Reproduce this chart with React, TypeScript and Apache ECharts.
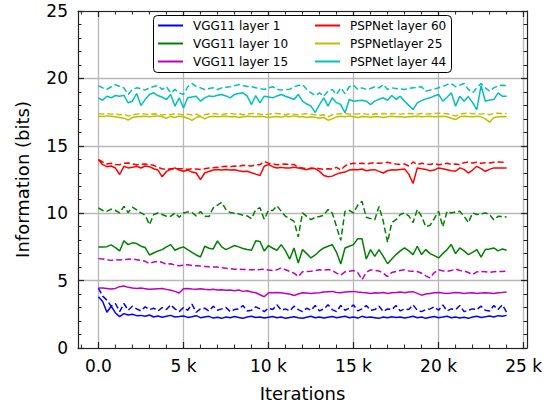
import React, { useEffect, useRef } from "react";
import * as echarts from "echarts";

// Iterations: one sample every 250 iterations, 0 .. 24000
const STEP = 250;
const N_POINTS = 97;
const ITERATIONS = Array.from({ length: N_POINTS }, (_, i) => i * STEP);

const X_MAJOR_TICKS = [0, 5000, 10000, 15000, 20000, 25000];
const X_MINOR_TICKS = [-1000, 1000, 2000, 3000, 4000, 6000, 7000, 8000, 9000, 11000, 12000, 13000, 14000, 16000, 17000, 18000, 19000, 21000, 22000, 23000, 24000];

const LEGEND_LEFT = ["VGG11 layer 1", "VGG11 layer 10", "VGG11 layer 15"];
const LEGEND_RIGHT = ["PSPNet layer 60", "PSPNetlayer 25", "PSPNet layer 44"];

const VGG1_SOLID = [
  3.8, 3.45, 2.65, 3.1, 2.6, 2.33, 2.55, 2.45, 2.5, 2.4,
  2.42, 2.36, 2.45, 2.3, 2.38, 2.28, 2.35, 2.42, 2.3, 2.33,
  2.38, 2.27, 2.32, 2.4, 2.25, 2.3, 2.35, 2.22, 2.28, 2.2,
  2.3, 2.25, 2.33, 2.27, 2.2, 2.3, 2.35, 2.26, 2.3, 2.22,
  2.28, 2.34, 2.25, 2.3, 2.2, 2.27, 2.32, 2.25, 2.2, 2.28,
  2.35, 2.25, 2.3, 2.22, 2.28, 2.33, 2.24, 2.3, 2.36, 2.25,
  2.3, 2.22, 2.35, 2.27, 2.3, 2.25, 2.2, 2.3, 2.24, 2.32,
  2.26, 2.3, 2.22, 2.28, 2.35, 2.25, 2.3, 2.2, 2.28, 2.33,
  2.25, 2.3, 2.36, 2.24, 2.3, 2.22, 2.28, 2.2, 2.3, 2.35,
  2.27, 2.32, 2.38, 2.3, 2.4, 2.35, 2.42,
];
const VGG1_DASHED = [
  4.45, 3.85, 3.55, 3.1, 3.3, 2.7, 3.3, 2.8, 3.1, 2.9,
  2.75, 3.05, 2.85, 2.95, 2.75, 3.0, 2.85, 3.2, 2.9, 2.7,
  3.0, 2.8, 3.25, 2.65, 2.9, 2.95, 2.75, 3.1, 2.8, 2.9,
  3.0, 2.7, 2.85, 2.9, 3.15, 2.75, 2.8, 3.05, 2.9, 2.7,
  2.95, 2.85, 3.2, 2.8, 2.9, 2.75, 3.1, 2.85, 2.7, 2.95,
  2.8, 3.15, 2.75, 2.9, 3.2, 2.85, 2.7, 3.15, 2.8, 2.95,
  3.2, 2.75, 2.9, 3.15, 2.8, 2.85, 3.1, 2.7, 2.9, 2.85,
  3.15, 2.75, 2.9, 2.85, 3.2, 2.8, 2.7, 2.85, 2.9, 3.05,
  2.8, 3.2, 2.75, 2.9, 2.85, 3.15, 2.7, 2.8, 2.9, 2.85,
  3.1, 2.8, 2.75, 3.15, 2.85, 3.2, 2.65,
];
const VGG15_SOLID = [
  4.45, 4.45, 4.42, 4.38, 4.42, 4.55, 4.6, 4.5, 4.45, 4.42,
  4.45, 4.4, 4.35, 4.38, 4.4, 4.42, 4.35, 4.28, 4.2, 4.08,
  4.4, 4.42, 4.38, 4.35, 4.4, 4.35, 4.32, 4.35, 4.3, 4.32,
  4.28, 4.3, 4.25, 4.3, 4.2, 4.25, 4.15, 4.1, 3.95, 3.8,
  4.1, 4.1, 4.12, 4.1, 4.05, 4.0, 3.9, 4.0, 4.1, 4.08,
  4.05, 4.08, 4.1, 4.15, 4.18, 4.2, 4.12, 4.1, 4.15, 4.18,
  4.2, 4.15, 4.12, 4.1, 4.05, 4.1, 4.08, 4.12, 4.05, 4.1,
  4.12, 4.15, 4.1, 4.15, 4.18, 4.05, 3.92, 4.0, 4.05, 4.1,
  4.12, 4.08, 4.05, 4.08, 4.12, 4.1, 4.05, 4.08, 4.1, 4.05,
  4.08, 4.1, 4.08, 4.05, 4.1, 4.12, 4.15,
];
const VGG15_DASHED = [
  6.63, 6.6, 6.55, 6.5, 6.55, 6.52, 6.55, 6.58, 6.6, 6.55,
  6.5, 6.43, 6.26, 6.38, 6.43, 6.35, 6.2, 6.25, 6.15, 6.1,
  6.15, 6.18, 6.12, 6.1, 6.08, 6.05, 6.02, 6.0, 6.0, 5.95,
  5.92, 5.88, 5.85, 5.85, 5.82, 5.82, 5.8, 5.8, 5.82, 5.85,
  5.78, 5.75, 5.8, 5.95, 5.8, 5.68, 5.55, 5.3, 5.65, 5.68,
  5.7, 5.75, 5.8, 5.78, 5.82, 5.75, 5.55, 5.4, 5.65, 5.7,
  5.75, 5.6, 5.07, 5.6, 5.8, 5.75, 5.72, 5.55, 5.3, 5.6,
  5.68, 5.75, 5.8, 5.72, 5.7, 5.68, 5.55, 5.35, 5.2, 5.6,
  5.8, 5.72, 5.68, 5.75, 5.85, 5.75, 5.72, 5.6, 5.45, 5.65,
  5.68, 5.65, 5.62, 5.65, 5.68, 5.68, 5.7,
];
const VGG10_SOLID = [
  7.5, 7.5, 7.52, 7.65, 7.45, 7.2, 7.95, 7.67, 7.8, 7.75,
  7.55, 7.45, 6.9, 7.05, 7.2, 7.3, 7.5, 7.67, 7.25, 7.4,
  7.5, 7.3, 7.1, 6.9, 6.75, 7.55, 7.4, 7.35, 7.95, 7.5,
  7.3, 7.45, 7.6, 7.5, 7.38, 7.3, 7.25, 7.95, 7.9, 7.2,
  7.6, 7.4, 7.25, 7.67, 7.2, 6.6, 7.42, 6.3, 7.3, 7.0,
  6.68, 6.9, 7.2, 7.42, 7.55, 7.67, 7.1, 6.23, 7.42, 7.55,
  7.67, 8.11, 8.1, 6.6, 7.3, 6.8, 7.3, 6.8, 6.25, 6.6,
  6.93, 7.2, 7.42, 7.2, 6.93, 7.55, 6.93, 7.3, 7.0, 6.85,
  6.68, 7.0, 7.3, 7.67, 7.0, 7.42, 7.2, 6.93, 7.1, 7.3,
  6.75, 7.3, 7.35, 7.42, 7.2, 7.35, 7.25,
];
const VGG10_DASHED = [
  10.4, 10.2, 10.14, 10.3, 10.2, 10.02, 10.5, 10.05, 10.45, 10.25,
  10.02, 9.85, 9.15, 9.9, 10.02, 9.9, 9.77, 9.77, 10.02, 9.7,
  10.02, 10.1, 10.05, 9.8, 10.12, 9.77, 9.75, 10.4, 10.6, 10.81,
  10.27, 10.05, 10.0, 9.95, 9.85, 9.8, 9.6, 10.27, 10.4, 9.55,
  10.2, 10.2, 10.55, 10.14, 9.77, 9.6, 9.4, 8.24, 10.02, 9.77,
  9.52, 9.7, 9.75, 9.85, 10.27, 10.02, 9.0, 7.99, 10.14, 10.2,
  10.02, 10.6, 10.88, 9.7, 9.6, 9.52, 10.5, 9.4, 7.84, 9.3,
  9.52, 9.9, 10.02, 9.8, 9.3, 10.27, 9.77, 9.0, 9.1, 9.6,
  10.14, 9.0, 10.14, 10.02, 10.1, 10.14, 9.77, 9.3, 10.02, 9.9,
  9.95, 10.02, 9.9, 9.52, 9.77, 9.75, 9.72,
];
const PSP60_SOLID = [
  13.98, 13.6, 13.45, 13.5, 13.35, 12.87, 13.48, 13.36, 13.4, 13.48,
  13.35, 13.5, 13.45, 13.3, 13.2, 12.7, 13.1, 13.25, 13.36, 13.2,
  13.11, 13.2, 13.05, 12.98, 12.49, 12.98, 13.1, 13.2, 13.25, 13.2,
  13.25, 13.2, 13.23, 13.15, 13.1, 13.11, 13.0, 12.9, 12.8, 13.48,
  13.6, 13.45, 13.36, 13.4, 13.35, 13.36, 13.4, 13.36, 13.3, 13.23,
  13.36, 13.3, 13.1, 12.8, 12.7, 12.75, 12.9, 13.0, 13.05, 13.2,
  13.25, 13.23, 13.28, 13.15, 13.2, 13.23, 13.1, 12.98, 13.15, 13.23,
  13.2, 13.25, 13.28, 12.9, 12.2, 13.36, 13.3, 13.25, 13.15, 13.2,
  13.36, 13.3, 13.23, 13.15, 13.11, 13.36, 13.25, 12.98, 13.2, 13.48,
  13.3, 13.11, 13.25, 13.36, 13.36, 13.36, 13.36,
];
const PSP60_DASHED = [
  13.98, 13.8, 13.65, 13.7, 13.62, 13.6, 13.7, 13.72, 13.65, 13.6,
  13.62, 13.65, 13.6, 13.55, 13.4, 13.3, 13.25, 13.3, 13.28, 13.3,
  13.3, 13.25, 13.3, 13.28, 13.25, 13.3, 13.35, 13.38, 13.4, 13.45,
  13.48, 13.45, 13.5, 13.48, 13.55, 13.52, 13.5, 13.58, 13.6, 13.85,
  13.7, 13.65, 13.6, 13.62, 13.65, 13.6, 13.62, 13.4, 13.36, 13.3,
  13.3, 13.35, 13.3, 13.25, 13.3, 13.28, 13.4, 13.2, 13.5, 13.65,
  13.7, 13.68, 13.7, 13.65, 13.7, 13.75, 13.7, 13.72, 13.78, 13.7,
  13.65, 13.62, 13.65, 13.5, 13.8, 13.6, 13.7, 13.65, 13.62, 13.68,
  13.6, 13.65, 13.7, 13.62, 13.65, 13.6, 13.75, 13.8, 13.72, 13.78,
  13.7, 13.75, 13.72, 13.78, 13.8, 13.78, 13.78,
];
const PSP25_SOLID = [
  17.2, 17.18, 17.22, 17.2, 17.15, 17.1, 17.05, 16.9, 17.1, 17.15,
  17.18, 17.2, 17.15, 17.2, 17.22, 17.15, 17.05, 17.18, 17.1, 17.2,
  17.15, 17.05, 16.88, 17.1, 17.18, 17.0, 17.15, 17.2, 17.15, 17.18,
  17.2, 17.15, 17.18, 17.1, 17.15, 17.2, 17.18, 17.15, 17.2, 17.15,
  17.1, 17.15, 17.18, 17.12, 17.2, 17.15, 17.22, 17.15, 17.18, 17.1,
  17.15, 17.12, 17.05, 17.1, 16.9, 17.0, 17.15, 17.2, 17.15, 17.22,
  17.15, 17.1, 17.18, 17.15, 17.12, 17.18, 17.15, 17.1, 17.15, 17.2,
  17.15, 17.18, 17.12, 17.15, 17.18, 17.2, 17.15, 17.18, 17.2, 17.15,
  17.18, 17.2, 17.15, 17.05, 16.95, 17.15, 17.2, 17.18, 17.15, 17.2,
  17.15, 17.0, 16.75, 17.1, 17.15, 17.18, 17.15,
];
const PSP25_DASHED = [
  17.38, 17.35, 17.4, 17.35, 17.38, 17.3, 17.35, 17.2, 17.3, 17.35,
  17.38, 17.35, 17.3, 17.38, 17.35, 17.28, 17.35, 17.3, 17.38, 17.35,
  17.3, 17.35, 17.28, 17.35, 17.2, 17.3, 17.38, 17.4, 17.35, 17.3,
  17.38, 17.4, 17.35, 17.38, 17.3, 17.35, 17.4, 17.38, 17.35, 17.3,
  17.35, 17.38, 17.4, 17.35, 17.3, 17.38, 17.35, 17.3, 17.35, 17.38,
  17.35, 17.3, 17.25, 17.3, 17.15, 17.3, 17.35, 17.38, 17.4, 17.35,
  17.38, 17.35, 17.4, 17.35, 17.3, 17.38, 17.35, 17.4, 17.35, 17.38,
  17.4, 17.35, 17.38, 17.4, 17.38, 17.35, 17.4, 17.35, 17.38, 17.4,
  17.42, 17.4, 17.38, 17.3, 17.2, 17.35, 17.4, 17.42, 17.38, 17.4,
  17.35, 17.38, 17.3, 17.4, 17.42, 17.4, 17.4,
];
const PSP44_SOLID = [
  18.56, 18.38, 18.68, 18.56, 18.73, 18.68, 18.75, 18.19, 18.31, 18.88,
  17.99, 18.43, 18.81, 18.93, 18.73, 18.6, 18.43, 18.81, 17.94, 18.56,
  17.81, 18.56, 18.62, 18.68, 18.31, 18.56, 18.7, 18.65, 18.75, 18.81,
  18.7, 18.56, 18.81, 18.88, 18.93, 18.68, 18.06, 18.73, 18.19, 18.68,
  18.62, 18.56, 18.7, 18.81, 18.68, 18.56, 18.43, 18.81, 18.31, 18.1,
  17.94, 17.47, 18.06, 18.56, 17.94, 18.56, 18.2, 18.06, 17.45, 18.43,
  18.31, 18.35, 18.38, 18.31, 18.06, 18.31, 18.45, 18.56, 18.38, 18.73,
  18.43, 18.68, 18.31, 18.0, 17.69, 18.19, 18.35, 18.48, 18.56, 18.7,
  18.81, 18.31, 18.6, 18.93, 17.94, 18.68, 18.31, 18.65, 18.2, 17.69,
  19.47, 18.31, 18.4, 18.43, 18.93, 18.68, 18.68,
];
const PSP44_DASHED = [
  19.47, 19.3, 19.18, 19.38, 19.54, 19.4, 19.3, 18.81, 19.18, 19.3,
  19.25, 19.13, 19.3, 19.4, 19.47, 19.18, 19.38, 18.93, 19.18, 18.93,
  18.81, 19.38, 19.62, 19.4, 19.3, 19.18, 19.25, 19.3, 19.18, 19.3,
  19.35, 19.38, 19.45, 19.54, 19.47, 19.4, 19.38, 19.3, 19.25, 19.18,
  19.3, 19.38, 19.2, 19.13, 19.18, 19.2, 19.38, 19.47, 19.54, 19.2,
  18.93, 18.73, 18.93, 18.68, 19.05, 19.18, 18.81, 19.3, 18.87, 19.38,
  19.5, 19.18, 19.3, 19.18, 19.25, 19.38, 19.3, 19.54, 19.18, 19.3,
  19.25, 19.22, 19.18, 19.25, 19.3, 19.35, 19.38, 19.05, 19.13, 19.2,
  19.3, 19.4, 19.54, 19.62, 19.38, 19.5, 19.62, 19.18, 18.93, 19.3,
  19.62, 19.3, 19.05, 19.3, 19.45, 19.5, 19.47,
];

const FONT = "DejaVu Sans";
const AXIS_COLOR = "#222222";

type S = { name: string; color: string; values: number[]; dashed: boolean };
const SERIES: S[] = [
  { name: "VGG11 layer 1", color: "#0000ff", values: VGG1_SOLID, dashed: false },
  { name: "VGG11 layer 1 (b)", color: "#0000ff", values: VGG1_DASHED, dashed: true },
  { name: "VGG11 layer 10", color: "#008000", values: VGG10_SOLID, dashed: false },
  { name: "VGG11 layer 10 (b)", color: "#008000", values: VGG10_DASHED, dashed: true },
  { name: "VGG11 layer 15", color: "#bf00bf", values: VGG15_SOLID, dashed: false },
  { name: "VGG11 layer 15 (b)", color: "#bf00bf", values: VGG15_DASHED, dashed: true },
  { name: "PSPNet layer 60", color: "#ff0000", values: PSP60_SOLID, dashed: false },
  { name: "PSPNet layer 60 (b)", color: "#ff0000", values: PSP60_DASHED, dashed: true },
  { name: "PSPNetlayer 25", color: "#bfbf00", values: PSP25_SOLID, dashed: false },
  { name: "PSPNetlayer 25 (b)", color: "#bfbf00", values: PSP25_DASHED, dashed: true },
  { name: "PSPNet layer 44", color: "#00bfbf", values: PSP44_SOLID, dashed: false },
  { name: "PSPNet layer 44 (b)", color: "#00bfbf", values: PSP44_DASHED, dashed: true },
];

export default function App() {
  const ref = useRef<HTMLDivElement>(null);
  useEffect(() => {
    if (!ref.current) return;
    const chart = echarts.init(ref.current, null, { renderer: "svg" });
    const xMin = -1200;
    const xMax = 25200;
    const legendCommon = {
      orient: "vertical",
      icon: "rect",
      itemWidth: 25,
      itemHeight: 2,
      itemGap: 4,
      padding: 0,
      z: 20,
      selectedMode: false,
      textStyle: { fontFamily: FONT, fontSize: 12, color: "#000", lineHeight: 14, padding: [0, 0, 0, 5] },
    };
    const lineSeries = SERIES.map((s) => ({
      name: s.name,
      type: "line",
      data: s.values.map((v, i) => [ITERATIONS[i], v]),
      showSymbol: false,
      symbol: "none",
      color: s.color,
      lineStyle: { color: s.color, width: 1.5, type: s.dashed ? [6, 3] : "solid" },
      z: 3,
    }));
    const option: any = {
      animation: false,
      backgroundColor: "#ffffff",
      grid: { left: 78, right: 32, top: 11, bottom: 62 },
      graphic: [
        {
          type: "rect",
          z: 10,
          shape: { x: 153.5, y: 15.5, width: 298, height: 57, r: 4 },
          style: { fill: "rgba(255,255,255,0.9)", stroke: "#000", lineWidth: 1 },
        },
      ],
      legend: [
        { ...legendCommon, left: 158, top: 18.5, data: LEGEND_LEFT },
        { ...legendCommon, left: 315, top: 18.5, data: LEGEND_RIGHT },
      ],
      xAxis: [
        {
          type: "value",
          position: "bottom",
          min: xMin,
          max: xMax,
          name: "Iterations",
          nameLocation: "middle",
          nameGap: 36,
          nameTextStyle: { fontFamily: FONT, fontSize: 18, color: "#000" },
          axisLine: { onZero: false, lineStyle: { color: AXIS_COLOR, width: 1.2 } },
          axisTick: { inside: true, length: 6, customValues: X_MAJOR_TICKS, lineStyle: { color: AXIS_COLOR, width: 1.2 } },
          axisLabel: {
            customValues: X_MAJOR_TICKS,
            fontFamily: FONT,
            fontSize: 17,
            color: "#000",
            margin: 9,
            formatter: (v: number) => (v === 0 ? "0.0" : `${v / 1000} k`),
          },
          splitLine: { show: true, lineStyle: { color: "#b8b8b8", width: 1.3 } },
        },
        {
          type: "value",
          position: "top",
          min: xMin,
          max: xMax,
          axisLine: { onZero: false, lineStyle: { color: AXIS_COLOR, width: 1.2 } },
          axisTick: { inside: true, length: 6, customValues: X_MAJOR_TICKS, lineStyle: { color: AXIS_COLOR, width: 1.2 } },
          axisLabel: { show: false },
          splitLine: { show: false },
        },
      ],
      yAxis: [
        {
          type: "value",
          position: "left",
          min: 0,
          max: 25,
          interval: 5,
          name: "Information (bits)",
          nameLocation: "middle",
          nameGap: 47,
          nameTextStyle: { fontFamily: FONT, fontSize: 18, color: "#000" },
          axisLine: { onZero: false, lineStyle: { color: AXIS_COLOR, width: 1.2 } },
          axisTick: { inside: true, length: 6, lineStyle: { color: AXIS_COLOR, width: 1.2 } },
          minorTick: { show: true, splitNumber: 5, length: 3.5, lineStyle: { color: AXIS_COLOR, width: 1 } },
          axisLabel: { fontFamily: FONT, fontSize: 17, color: "#000", margin: 10 },
          splitLine: { show: true, lineStyle: { color: "#b8b8b8", width: 1.3 } },
        },
        {
          type: "value",
          position: "right",
          min: 0,
          max: 25,
          interval: 5,
          axisLine: { onZero: false, lineStyle: { color: AXIS_COLOR, width: 1.2 } },
          axisTick: { inside: true, length: 6, lineStyle: { color: AXIS_COLOR, width: 1.2 } },
          minorTick: { show: true, splitNumber: 5, length: 3.5, lineStyle: { color: AXIS_COLOR, width: 1 } },
          axisLabel: { show: false },
          splitLine: { show: false },
        },
      ],
      series: [
        ...lineSeries,
        {
          name: "minor-x-ticks",
          type: "custom",
          silent: true,
          clip: false,
          z: 5,
          data: X_MINOR_TICKS.map((v) => [v, 0]),
          renderItem: (_params: any, api: any) => {
            const x = api.value(0);
            const b = api.coord([x, 0]);
            const t = api.coord([x, 25]);
            const style = { stroke: AXIS_COLOR, lineWidth: 1 };
            return {
              type: "group",
              children: [
                { type: "line", shape: { x1: b[0], y1: b[1], x2: b[0], y2: b[1] - 3.5 }, style },
                { type: "line", shape: { x1: t[0], y1: t[1], x2: t[0], y2: t[1] + 3.5 }, style },
              ],
            };
          },
        },
      ],
    };
    chart.setOption(option);
    return () => chart.dispose();
  }, []);
  return <div ref={ref} style={{ position: "absolute", left: 0, top: 0, width: 559, height: 410 }} />;
}
